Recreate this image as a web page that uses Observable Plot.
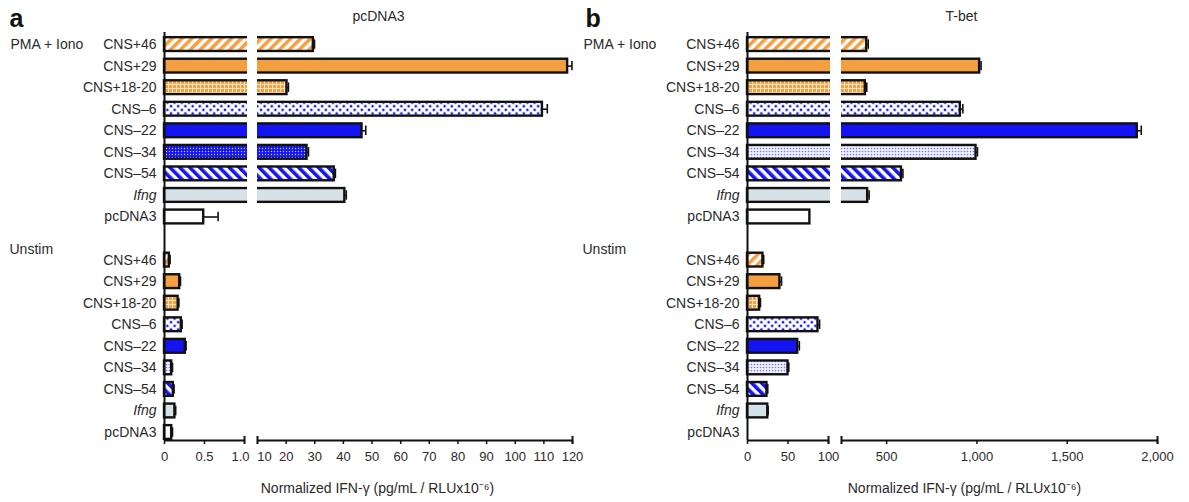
<!DOCTYPE html>
<html>
<head>
<meta charset="utf-8">
<script src="https://cdn.jsdelivr.net/npm/d3@7"></script>
<script src="https://cdn.jsdelivr.net/npm/@observablehq/plot@0.6"></script>
<style>
  html, body { margin: 0; padding: 0; background: #fff; }
  #wrap { position: relative; width: 1189px; height: 502px; font-family: "Liberation Sans", Arial, sans-serif; }
  #wrap svg { position: absolute; left: 0; top: 0; }
</style>
</head>
<body>
<div id="wrap"></div>
<script>
// ---------- data ----------
const constructs = ["CNS+46", "CNS+29", "CNS+18-20", "CNS–6", "CNS–22", "CNS–34", "CNS–54", "Ifng", "pcDNA3"];
const groups = ["PMA + Iono", "Unstim"];
const titles = ["pcDNA3", "T-bet"];
const letters = ["a", "b"];
const axisLabel = "Normalized IFN-γ (pg/mL / RLUx10⁻⁶)";

// panel a (pcDNA3)
const aStim      = [29.5, 118.3, 20.3, 109.5, 46.5, 27.3, 36.8, 40.5, 0.49];
const aStimErr   = [0.4, 1.5, 0.5, 1.7, 1.3, 0.5, 0.4, 0.5, 0.18];
const aUnstim    = [0.06, 0.19, 0.17, 0.21, 0.26, 0.09, 0.11, 0.13, 0.09];
const aUnstimErr = [0.01, 0.01, 0.01, 0.01, 0.01, 0.01, 0.01, 0.01, 0.01];
// panel b (T-bet)
const bStim      = [390, 1015, 382, 908, 1888, 995, 582, 395, 77];
const bStimErr   = [8, 8, 8, 14, 22, 8, 8, 8, 0];
const bUnstim    = [19, 40, 15, 87, 62, 50, 24, 25, 0];
const bUnstimErr = [1, 2, 1, 2, 2, 1, 1, 0.5, 0];

// tick labels
const aTicks = [0, 0.5, 1, 10, 20, 30, 40, 50, 60, 70, 80, 90, 100, 110, 120];
const bTicks = [0, 50, 100, 500, 1000, 1500, 2000];

// ---------- styling ----------
const ORANGE = "#f5a040", BLUE = "#1414f2", IFNG = "#d5e2e8";
const solid = { orange: ORANGE, blue: BLUE, ifng: IFNG, white: "#ffffff" };
const fillsA = ["stripeO", "orange", "gridO", "dotsB", "blue", "dotsDark", "stripeB", "ifng", "white"];
const fillsAU = ["stripeO", "orange", "gridO", "dotsB", "blue", "dotsLight", "stripeB", "ifng", "white"];
const fillsB = ["stripeO", "orange", "gridO", "dotsB", "blue", "dotsLight", "stripeB", "ifng", "white"];

const W = 1189, H = 502;
const rowTop = -0.56, rowBottom = 18.37, hb = 0.32;
const FONT = "Liberation Sans, Arial, Helvetica, sans-serif";
const INK = "#111", TXT = "#2a2a2a";

function patternDefs(id) {
  return () => {
    const d = document.createElementNS("http://www.w3.org/2000/svg", "defs");
    d.innerHTML = `
      <pattern id="${id}-stripeO" patternUnits="userSpaceOnUse" width="7" height="7" patternTransform="rotate(45)">
        <rect width="7" height="7" fill="#fff"/><rect width="3.6" height="7" fill="${ORANGE}"/>
      </pattern>
      <pattern id="${id}-stripeB" patternUnits="userSpaceOnUse" width="7" height="7" patternTransform="rotate(-45)">
        <rect width="7" height="7" fill="#fff"/><rect width="3.6" height="7" fill="${BLUE}"/>
      </pattern>
      <pattern id="${id}-gridO" patternUnits="userSpaceOnUse" width="4" height="4">
        <rect width="4" height="4" fill="${ORANGE}"/>
        <path d="M0 0.5H4M0.5 0V4" stroke="#fde2c0" stroke-width="1"/>
      </pattern>
      <pattern id="${id}-dotsB" patternUnits="userSpaceOnUse" width="7.2" height="7.2">
        <rect width="7.2" height="7.2" fill="#fff"/>
        <circle cx="1.8" cy="1.8" r="1.35" fill="${BLUE}"/>
        <circle cx="5.4" cy="5.4" r="1.35" fill="${BLUE}"/>
      </pattern>
      <pattern id="${id}-dotsDark" patternUnits="userSpaceOnUse" width="3" height="3">
        <rect width="3" height="3" fill="${BLUE}"/>
        <circle cx="1.5" cy="1.5" r="0.7" fill="#c8c8ff"/>
      </pattern>
      <pattern id="${id}-dotsLight" patternUnits="userSpaceOnUse" width="3" height="3">
        <rect width="3" height="3" fill="#f4f4ff"/>
        <circle cx="1.5" cy="1.5" r="0.85" fill="#7676f0"/>
      </pattern>`;
    return d;
  };
}

function panel(cfg) {
  const rows = [];
  constructs.forEach((c, i) => {
    rows.push({ c, row: i, v: cfg.stim[i], e: cfg.stimErr[i], fill: cfg.fillStim[i] });
    rows.push({ c, row: 10 + i, v: cfg.unstim[i], e: cfg.unstimErr[i], fill: cfg.fillUnstim[i] });
  });
  const bars = rows.filter(d => d.v > 0);
  const errs = rows.filter(d => d.e > 0);
  const broken = rows.filter(d => d.v > cfg.breaks[1]);
  const fillOf = d => solid[d.fill] ?? `url(#${cfg.id}-${d.fill})`;
  const left = cfg.range[0], right = cfg.range[cfg.range.length - 1];
  const mainTicks = cfg.ticks.filter(t => !(t in cfg.shift));
  const axisCommon = { tickFormat: cfg.fmt, fontSize: 13, label: null, stroke: INK, fill: TXT, strokeWidth: 1.5 };

  return Plot.plot({
    width: W, height: H,
    marginTop: 32, marginBottom: 62, marginLeft: left, marginRight: W - right,
    style: { background: "transparent", fontFamily: FONT, overflow: "visible", color: INK },
    x: { type: "linear", domain: cfg.domain, range: cfg.range, label: null },
    y: { type: "linear", domain: [rowTop, rowBottom], reverse: true, axis: null, label: null },
    color: { type: "identity" },
    marks: [
      patternDefs(cfg.id),
      Plot.rectX(bars, { x1: 0, x2: "v", y1: d => d.row - hb, y2: d => d.row + hb, fill: fillOf, stroke: INK, strokeWidth: 2.4 }),
      Plot.rectX(broken, { x1: cfg.breaks[0], x2: cfg.breaks[1], y1: d => d.row - 0.47, y2: d => d.row + 0.47, fill: "white", insetLeft: cfg.gapInset }),
      Plot.ruleY(errs, { x1: "v", x2: d => d.v + d.e, y: "row", stroke: INK, strokeWidth: 1.6 }),
      Plot.ruleX(errs, { x: d => d.v + d.e, y1: d => d.row - 0.22, y2: d => d.row + 0.22, stroke: INK, strokeWidth: 1.6 }),
      // axes lines
      Plot.ruleX([0], { stroke: INK, strokeWidth: 2 }),
      Plot.ruleY(cfg.segments, { x1: d => d[0], x2: d => d[1], y: rowBottom, stroke: INK, strokeWidth: 2 }),
      Plot.ruleX(cfg.caps, { x: d => d, y1: rowBottom, y2: rowBottom, insetTop: -4, insetBottom: -4, stroke: INK, strokeWidth: 2 }),
      Plot.axisX({ ...axisCommon, ticks: mainTicks, tickSize: 4, tickPadding: 7 }),
      ...Object.entries(cfg.shift).map(([t, dx]) =>
        Plot.axisX({ ...axisCommon, ticks: [+t], tickSize: 0, tickPadding: 11, dx })),
      // category labels
      Plot.text(rows.filter(d => d.c !== "Ifng"), { x: 0, y: "row", text: "c", textAnchor: "end", dx: -8, fontSize: 14, fill: TXT }),
      Plot.text(rows.filter(d => d.c === "Ifng"), { x: 0, y: "row", text: "c", textAnchor: "end", dx: -8, fontSize: 14, fontStyle: "italic", fill: TXT }),
      // group labels
      Plot.text([groups[0]], { y: 0, frameAnchor: "left", textAnchor: "start", dx: cfg.groupDx, fontSize: 14, fill: TXT }),
      Plot.text([groups[1]], { y: 9.5, frameAnchor: "left", textAnchor: "start", dx: cfg.groupDx - 1, fontSize: 14, fill: TXT }),
      // title, panel letter, axis label
      Plot.text([cfg.title], { frameAnchor: "top", dy: -21, dx: cfg.titleDx, fontSize: 14, fill: TXT }),
      Plot.text([cfg.letter], { frameAnchor: "top-left", textAnchor: "start", dx: cfg.letterDx, dy: -23, fontSize: 25, fontWeight: "bold", fill: INK }),
      Plot.text([axisLabel], { frameAnchor: "bottom", dy: 52, dx: cfg.labelDx, fontSize: 14, fill: TXT })
    ]
  });
}

const wrap = document.getElementById("wrap");
wrap.appendChild(panel({
  id: "pa", letter: letters[0], title: titles[0],
  stim: aStim, stimErr: aStimErr, unstim: aUnstim, unstimErr: aUnstimErr,
  fillStim: fillsA, fillUnstim: fillsAU,
  domain: [0, 1, 10, 120], range: [164, 244, 257, 572],
  breaks: [1, 10], gapInset: 3, segments: [[0, 1], [10, 120]], caps: [1, 10, 120],
  ticks: aTicks, shift: { 1: -4, 10: 7 },
  fmt: d => d === 1 ? "1.0" : String(d),
  groupDx: -154, titleDx: 10, letterDx: -155, labelDx: 9
}));
wrap.appendChild(panel({
  id: "pb", letter: letters[1], title: titles[1],
  stim: bStim, stimErr: bStimErr, unstim: bUnstim, unstimErr: bUnstimErr,
  fillStim: fillsB, fillUnstim: fillsB,
  domain: [0, 100, 250, 2000], range: [747, 828, 841, 1157],
  breaks: [100, 250], gapInset: 2, segments: [[0, 100], [250, 2000]], caps: [100, 250, 2000],
  ticks: bTicks, shift: {},
  fmt: d3.format(","),
  groupDx: -164, titleDx: 9, letterDx: -162, labelDx: 12
}));
</script>
</body>
</html>
